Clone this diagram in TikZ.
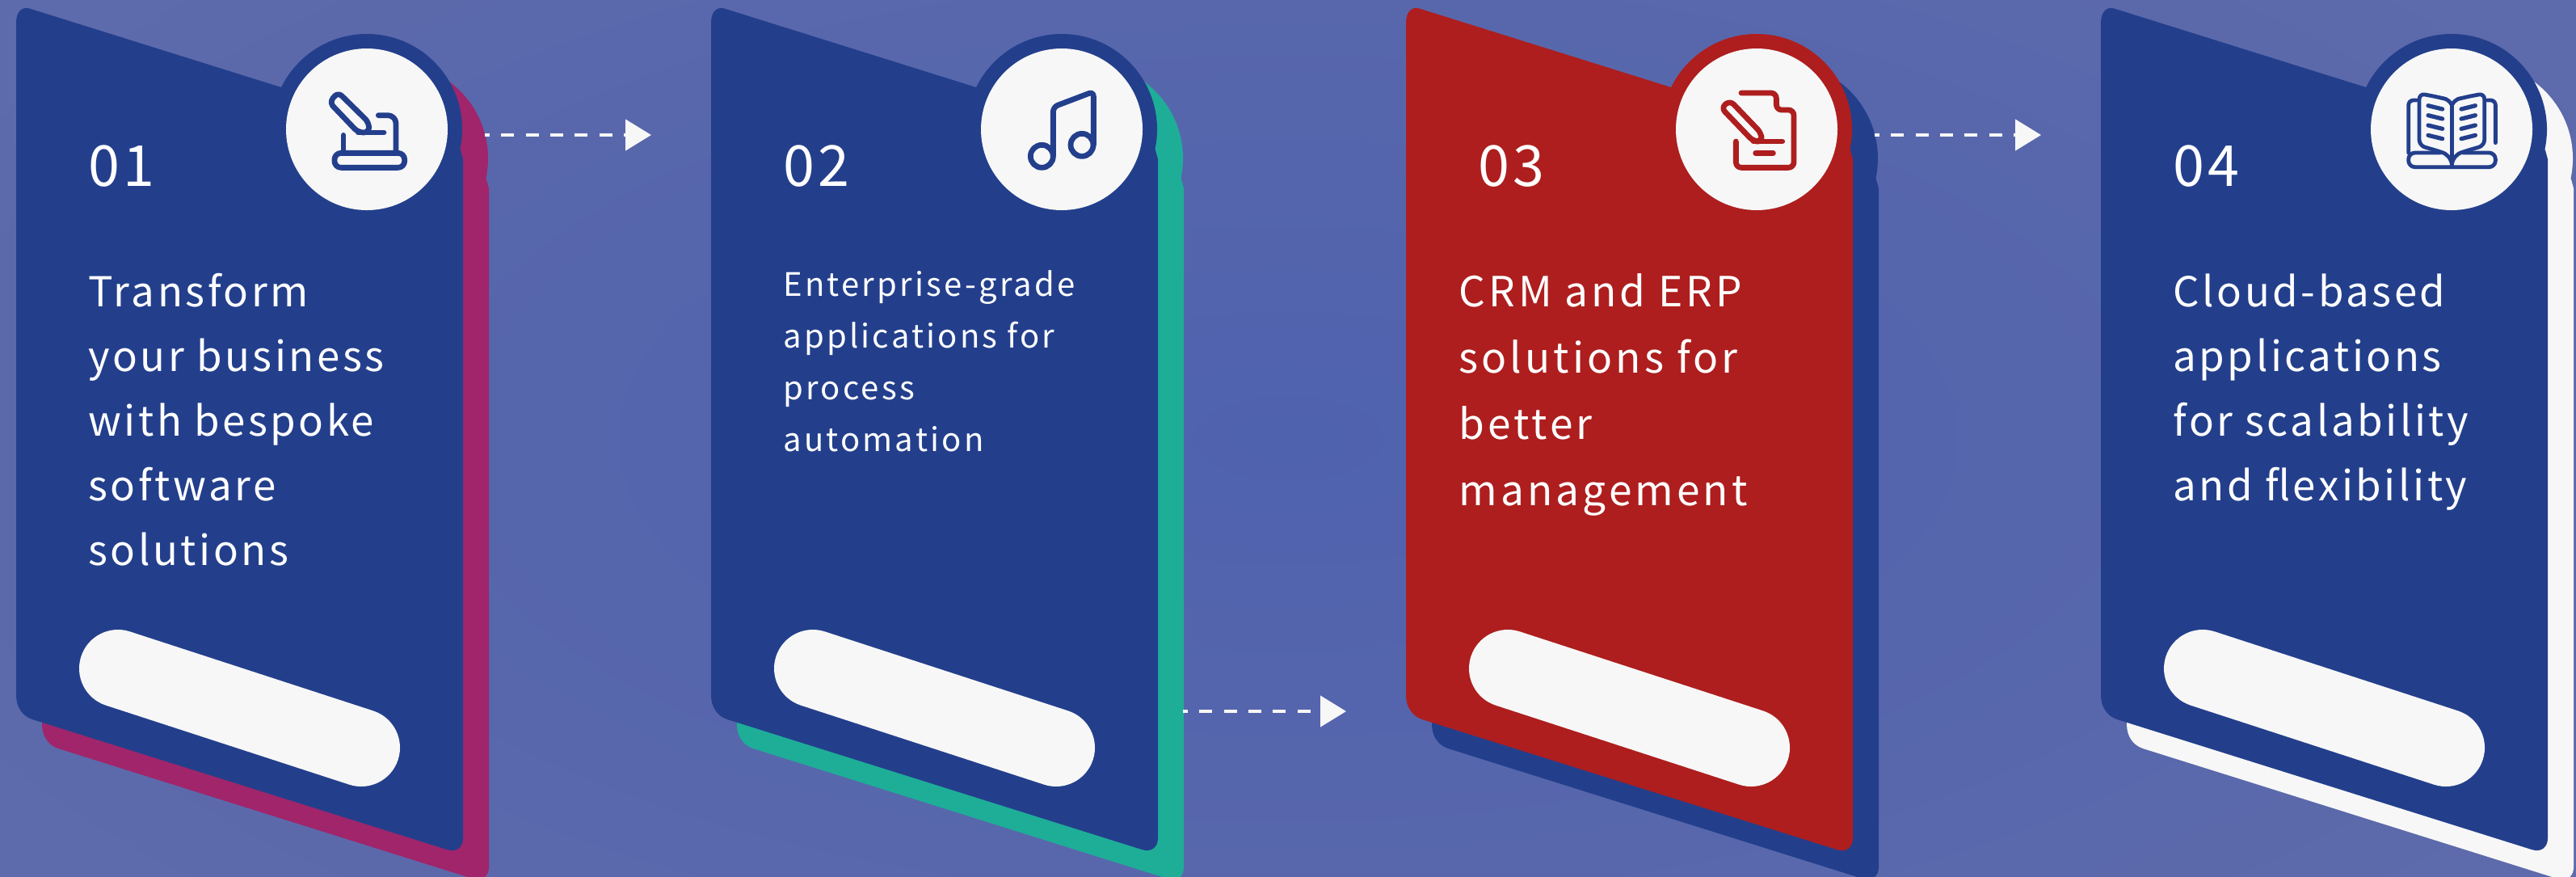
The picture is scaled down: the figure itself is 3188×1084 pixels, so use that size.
\documentclass[tikz,border=0pt]{standalone}
\usepackage{fontspec}
\usetikzlibrary{arrows.meta}
\newfontfamily\cardfont[LetterSpace=8]{Noto Sans CJK SC}
\newfontfamily\bodyfont[LetterSpace=7]{Noto Sans CJK SC}
\newfontfamily\numfont[LetterSpace=6]{Noto Sans CJK SC}
\definecolor{bgin}{HTML}{4F62AE}
\definecolor{bgout}{HTML}{5D6AAB}
\definecolor{navy}{HTML}{233F8C}
\definecolor{plum}{HTML}{A0256B}
\definecolor{teal1}{HTML}{1EAE98}
\definecolor{brick}{HTML}{AE1E1E}
\definecolor{paper}{HTML}{F7F7F7}
\tikzset{
  numlabel/.style={anchor=base west,inner sep=0pt,text=white,font=\numfont\fontsize{35}{35}\selectfont},
  bigtext/.style={anchor=north west,inner sep=0pt,text=white,align=left,font=\bodyfont\fontsize{25.5}{40}\selectfont},
  widetext/.style={anchor=north west,inner sep=0pt,text=white,align=left,font=\cardfont\fontsize{25.7}{41}\selectfont},
  smalltext/.style={anchor=north west,inner sep=0pt,text=white,align=left,font=\cardfont\fontsize{20}{32}\selectfont},
  ring/.style={circle,inner sep=0pt,minimum size=118pt},
  disc/.style={circle,inner sep=0pt,minimum size=100pt,fill=paper},
  flow/.style={draw=paper,line width=2.2pt,dash pattern=on 8pt off 7.15pt,dash phase=5pt,-{Triangle[length=16pt,width=19pt,fill=paper]}},
  icon/.style={line width=3.4pt,line cap=round,line join=round},
}
\newcommand{\cardpath}{(20,28) .. controls (20,14) and (28,7) .. (38,11) -- (348,108) -- (454,150) -- (560,170) -- (570,186) -- (573,197) -- (573,1037) .. controls (573,1048) and (565,1055) .. (553,1051) -- (40,890) .. controls (28,886) and (20,875) .. (20,860) -- cycle}
\newcommand{\makecard}[4]{%
  \begin{scope}[shift={(#2,0)}]
    \fill[#4,shift={(32,36)}] \cardpath;
    \node[ring,fill=#4] (halo#1) at (486,196) {};
    \fill[#3] \cardpath;
    \node[ring,fill=#3] (ring#1) at (454,160) {};
    \node[disc] (disc#1) at (ring#1) {};
    \draw[paper,line width=48pt,line cap=round] (146,827) -- (447,925);
  \end{scope}}
\begin{document}
\begin{tikzpicture}[x=0.5pt,y=-0.5pt]
\path[use as bounding box,clip] (0,0) rectangle (3188,1084);
\shade[inner color=bgin,outer color=bgout] (-300,-300) rectangle (3488,1384);
\makecard{1}{0}{navy}{plum}
\makecard{2}{860}{navy}{teal1}
\makecard{3}{1720}{brick}{navy}
\makecard{4}{2580}{navy}{paper}
% numbers
\node[numlabel] (n1) at (109,230) {01};
\node[numlabel] (n2) at (969,230) {02};
\node[numlabel] (n3) at (1829,230) {03};
\node[numlabel] (n4) at (2689,230) {04};
% body
\node[bigtext] (t1) at (109,338) {Transform\\your business\\with bespoke\\software\\solutions};
\node[smalltext] (t2) at (969,334) {Enterprise-grade\\applications for\\process\\automation};
\node[widetext] (t3) at (1805,338) {CRM and ERP\\solutions for\\better\\management};
\node[bigtext] (t4) at (2689,338) {Cloud-based\\applications\\for scalability\\and flexibility};
% connectors
\coordinate (a1s) at (600,167); \coordinate (a1e) at (806,167);
\coordinate (a2s) at (1464,880); \coordinate (a2e) at (1666,880);
\coordinate (a3s) at (2320,167); \coordinate (a3e) at (2526,167);
\draw[flow] (a1s) -- (a1e);
\draw[flow] (a2s) -- (a2e);
\draw[flow] (a3s) -- (a3e);
% icon 1
\begin{scope}[shift={(340,20)},x=0.16667pt,y=-0.16667pt,icon,draw=navy]
\draw[rounded corners=3.3pt] (235,282) -- (350,395) -- (350,432) -- (310,432) -- (203,320) -- cycle;
\draw (310,432) -- (405,432);
\draw[rounded corners=5pt] (385,368) -- (450,368) -- (450,505);
\draw (255,442) -- (255,505);
\draw[rounded corners=4pt] (222,508) -- (482,508) -- (482,562) -- (222,562) -- cycle;
\end{scope}
% icon 2
\begin{scope}[shift={(1190,60)},x=0.16667pt,y=-0.16667pt,icon,draw=navy]
\draw (298,400) circle [radius=7pt];
\draw (447,358) circle [radius=7pt];
\draw[rounded corners=3pt] (340,400) -- (340,217) -- (490,160) -- (490,358);
\end{scope}
% icon 3
\begin{scope}[shift={(2040,60)},x=0.16667pt,y=-0.16667pt,icon,draw=brick]
\draw[rounded corners=3.3pt] (303,193) -- (420,315) -- (420,345) -- (390,345) -- (270,220) -- cycle;
\draw (390,345) -- (497,345);
\draw[rounded corners=3.3pt] (345,165) -- (475,165) -- (475,228) -- (540,228) -- (540,442) -- (325,442) -- (325,345);
\draw (398,388) -- (463,388);
\end{scope}
% icon 4
\begin{scope}[shift={(2870,20)},x=0.16667pt,y=-0.16667pt,icon,draw=navy,line width=2.4pt]
\draw (493,330) -- (493,550);
\draw[rounded corners=3.5pt] (493,330) .. controls (480,305) and (460,305) .. (440,300) -- (372,287) -- (372,480) -- (440,500) .. controls (470,510) and (490,525) .. (493,550);
\draw[rounded corners=3.5pt] (493,330) .. controls (506,305) and (526,305) .. (546,300) -- (614,287) -- (614,480) -- (546,500) .. controls (516,510) and (496,525) .. (493,550);
\draw[rounded corners=3pt] (362,312) -- (332,312) -- (332,507);
\draw[rounded corners=3pt] (625,312) -- (655,312) -- (655,470);
\draw[rounded corners=4pt] (493,560) -- (655,560) -- (655,507) -- (535,507);
\draw[rounded corners=4pt] (450,507) -- (332,507) -- (332,560) -- (493,560);
\foreach \yy in {332,368,405,442} {
  \draw[line width=2.6pt] (405,\yy) -- (458,\yy+13);
  \draw[line width=2.6pt] (528,\yy+13) -- (580,\yy);
}
\end{scope}
\end{tikzpicture}
\end{document}
